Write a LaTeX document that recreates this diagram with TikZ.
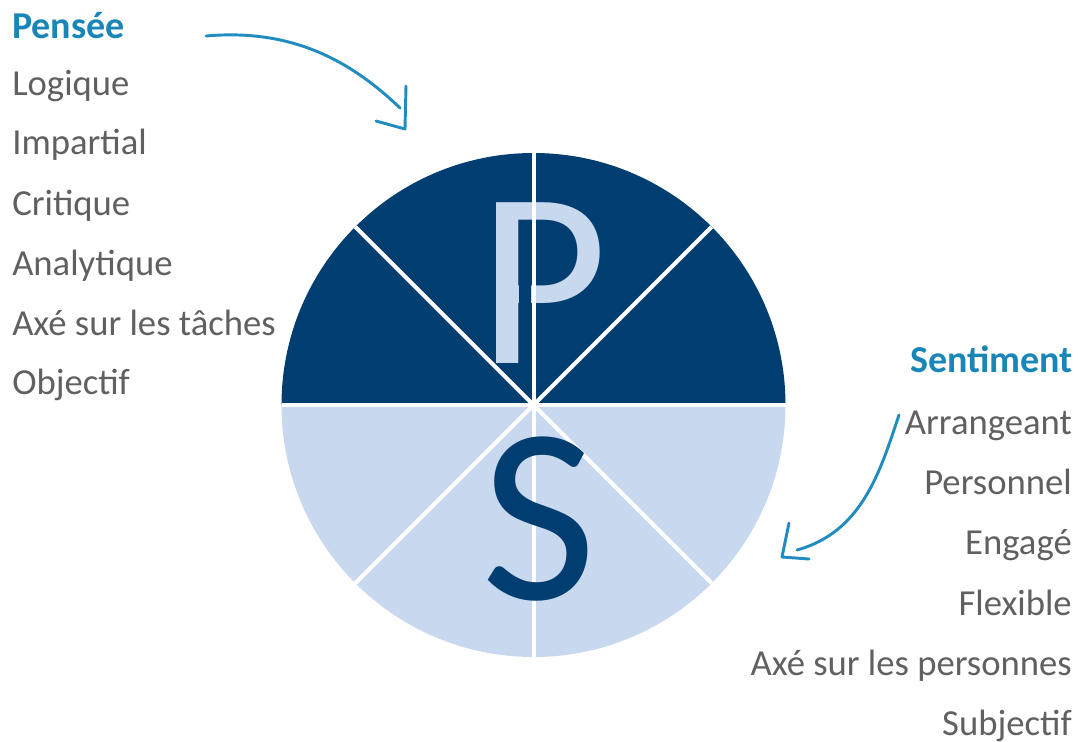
\documentclass[tikz,border=0pt]{standalone}
\usepackage{fontspec}
\setmainfont{Carlito}
\usetikzlibrary{calc}
\definecolor{darkblue}{RGB}{0,61,112}
\definecolor{lightblue}{RGB}{200,216,238}
\definecolor{headblue}{RGB}{26,134,184}
\definecolor{txtgray}{RGB}{96,96,96}
\definecolor{arrowblue}{RGB}{32,140,192}
\begin{document}
\begin{tikzpicture}[x=0.75pt,y=-0.75pt,
  item/.style={inner sep=0pt,text=txtgray,font=\fontsize{27.5}{30}\selectfont},
  head/.style={inner sep=0pt,text=headblue,font=\fontsize{28.5}{30}\selectfont\bfseries},
  sep/.style={draw=white,line width=3pt},
  hand/.style={draw=arrowblue,line width=2.2pt,line cap=round,line join=round},
  bigletter/.style={inner sep=0pt,anchor=base,font=\fontsize{188}{190}\selectfont}]
\useasboundingbox (0,0) rectangle (1083,742);
% circle
\coordinate (c) at (533.5,405);
\fill[darkblue] (c) ++(252,0) arc[start angle=0,end angle=-180,radius=252] -- cycle;
\fill[lightblue] (c) ++(252,0) arc[start angle=0,end angle=180,radius=252] -- cycle;
% letter P
\node[bigletter,text=lightblue] (P) at (543,363) {P};
\fill[darkblue] (518.8,223) rectangle (531,368);
% separators
\foreach \a in {0,45,90,135} {
  \draw[sep] ($(c)+(\a:252)$) -- ($(c)+(\a+180:252)$);
}
% letter S
\node[bigletter,text=darkblue] (S) at (539,599) {S};
% left texts
\node[head,anchor=base west] (pensee) at (12,39) {Pensée};
\node[item,anchor=base west] (l1) at (12,96) {Logique};
\node[item,anchor=base west] (l2) at (12,155) {Impartial};
\node[item,anchor=base west] (l3) at (12,215) {Critique};
\node[item,anchor=base west] (l4) at (12,275) {Analytique};
\node[item,anchor=base west] (l5) at (12,335) {Axé sur les tâches};
\node[item,anchor=base west] (l6) at (12,394) {Objectif};
% right texts
\node[head,anchor=base east] (sentiment) at (1073,372) {Sentiment};
\node[item,anchor=base east] (r1) at (1072,434) {Arrangeant};
\node[item,anchor=base east] (r2) at (1072,494) {Personnel};
\node[item,anchor=base east] (r3) at (1072,554) {Engagé};
\node[item,anchor=base east] (r4) at (1072,615) {Flexible};
\node[item,anchor=base east] (r5) at (1072,675) {Axé sur les personnes};
\node[item,anchor=base east] (r6) at (1072,735) {Subjectif};
% hand-drawn arrows
\coordinate (a1s) at (206,36);
\coordinate (a1e) at (400,108);
\coordinate (a1t) at (405,129);
\draw[hand] (a1s) .. controls (285,29) and (345,55) .. (a1e);
\draw[hand] (406,86) -- (a1t) -- (376,121);
\coordinate (a2s) at (899,415);
\coordinate (a2e) at (797,550);
\coordinate (a2t) at (782,557);
\draw[hand] (a2s) .. controls (880,472) and (862,532) .. (a2e);
\draw[hand] (789,523) -- (a2t) -- (809,559);
\end{tikzpicture}
\end{document}
